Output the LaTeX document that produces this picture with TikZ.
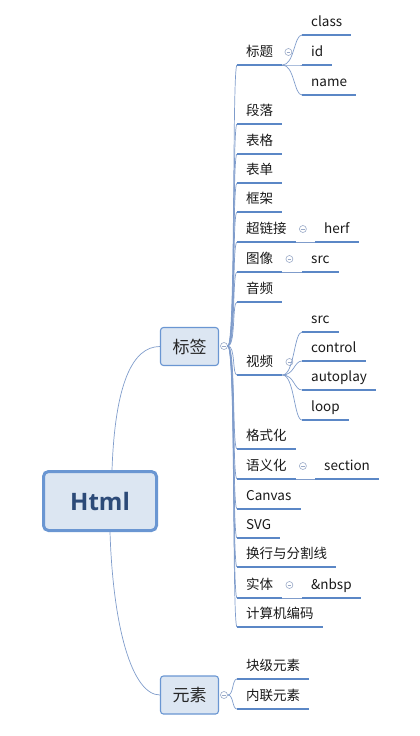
\documentclass[tikz,border=0pt]{standalone}
\usepackage{fontspec}
\setmainfont{Noto Sans CJK SC}
\newfontfamily\rootfont{Open Sans}
\usetikzlibrary{calc}
\definecolor{mapline}{HTML}{7F9CCB}
\definecolor{mapunder}{HTML}{5B87C6}
\definecolor{mapfill}{HTML}{DCE6F2}
\definecolor{mapedge}{HTML}{6A96D2}
\definecolor{maproot}{HTML}{2C4A78}
\definecolor{mapfold}{HTML}{9AAAC8}
\tikzset{
  root/.style={
    rectangle, rounded corners=5pt, draw=mapedge, line width=3pt, fill=mapfill,
    minimum width=113pt, minimum height=59pt, text=maproot,
    font=\rootfont\bfseries\fontsize{24}{28}\selectfont
  },
  topic/.style={
    rectangle, rounded corners=3pt, draw=mapedge, line width=1.1pt, fill=mapfill,
    minimum width=58pt, minimum height=38pt, text=black!85,
    font=\fontsize{17}{20}\selectfont
  },
  leaf/.style={
    anchor=south west, inner xsep=9pt, inner ysep=0pt,
    text height=10pt, text depth=8pt, text=black!90,
    font=\fontsize{13.5}{16}\selectfont
  },
  uline/.style={draw=mapunder, line width=1.6pt},
  link/.style={draw=mapline, line width=0.7pt},
  fold/.style={
    circle, draw=mapfold, fill=white, minimum size=7pt, inner sep=0pt, line width=0.6pt,
    path picture={\draw[mapfold, line width=0.6pt]
      ([xshift=-1.8pt]path picture bounding box.center) --
      ([xshift=1.8pt]path picture bounding box.center);}
  }
}
\begin{document}
\begin{tikzpicture}[x=1pt, y=-1pt]
  \useasboundingbox (0,0) rectangle (420,736);

  % Root and main topics
  \node[root] (html) at (100,501) {Html};
  \node[topic] (tag) at (189.5,346.5) {标签};
  \node[topic] (elem) at (189.5,695) {元素};
  \node[fold] (tagf) at (224,346) {};
  \node[fold] (elemf) at (224,695) {};

  \draw[link] ([xshift=12pt]html.north) .. controls +(3,-85) and +(-28,0) .. (tag.west);
  \draw[link] ([xshift=10pt]html.south) .. controls +(3,95) and +(-28,0) .. (elem.west);

  % Children of the tag topic
  \node[leaf] (heading)  at (237,65)  {标题};
  \node[leaf] (para)     at (237,124) {段落};
  \node[leaf] (table)    at (237,154) {表格};
  \node[leaf] (form)     at (237,183) {表单};
  \node[leaf] (frame)    at (237,212) {框架};
  \node[leaf] (link)     at (237,242) {超链接};
  \node[leaf] (img)      at (237,272) {图像};
  \node[leaf] (audio)    at (237,302) {音频};
  \node[leaf] (video)    at (237,375) {视频};
  \node[leaf] (format)   at (237,449) {格式化};
  \node[leaf] (semantic) at (237,479) {语义化};
  \node[leaf] (canvas)   at (237,509) {Canvas};
  \node[leaf] (svg)      at (237,538) {SVG};
  \node[leaf] (hr)       at (237,567) {换行与分割线};
  \node[leaf] (entity)   at (237,598) {实体};
  \node[leaf] (encoding) at (237,627) {计算机编码};

  % Attributes
  \node[leaf] (hclass)   at (302,35)  {class};
  \node[leaf] (hid)      at (302,65)  {id};
  \node[leaf] (hname)    at (302,95)  {name};
  \node[leaf] (lherf)    at (315,242) {herf};
  \node[leaf] (isrc)     at (302,272) {src};
  \node[leaf] (vsrc)     at (302,332) {src};
  \node[leaf] (vcontrol) at (302,361) {control};
  \node[leaf] (vauto)    at (302,390) {autoplay};
  \node[leaf] (vloop)    at (302,420) {loop};
  \node[leaf] (ssection) at (315,479) {section};
  \node[leaf] (enbsp)    at (302,598) {\&nbsp};

  % Children of the element topic
  \node[leaf] (block)  at (237,679) {块级元素};
  \node[leaf] (inline) at (237,709) {内联元素};

  % Fold markers
  \node[fold] (headingf)  at ($(heading.south east)+(6,-13)$) {};
  \node[fold] (linkf)     at ($(link.south east)+(7,-13)$) {};
  \node[fold] (imgf)      at ($(img.south east)+(7,-13)$) {};
  \node[fold] (videof)    at ($(video.south east)+(7,-13)$) {};
  \node[fold] (semanticf) at ($(semantic.south east)+(7,-13)$) {};
  \node[fold] (entityf)   at ($(entity.south east)+(7,-13)$) {};

  % Connectors
  \foreach \n in {heading,para,table,form,frame,link,img,audio,video,
                  format,semantic,canvas,svg,hr,entity,encoding}
    \draw[link] (tagf.east) .. controls +(8,0) and +(-5,0) .. (\n.south west);
  \foreach \n in {block,inline}
    \draw[link] (elemf.east) .. controls +(6,0) and +(-5,0) .. (\n.south west);
  \foreach \n in {hclass,hid,hname}
    \draw[link] (heading.south east) .. controls +(12,0) and +(-8,0) .. (\n.south west);
  \foreach \n in {vsrc,vcontrol,vauto,vloop}
    \draw[link] (video.south east) .. controls +(12,0) and +(-8,0) .. (\n.south west);
  \draw[link] (link.south east) -- (lherf.south west);
  \draw[link] (img.south east) -- (isrc.south west);
  \draw[link] (semantic.south east) -- (ssection.south west);
  \draw[link] (entity.south east) -- (enbsp.south west);

  % Underlines
  \foreach \n in {heading,para,table,form,frame,link,img,audio,video,
                  format,semantic,canvas,svg,hr,entity,encoding,
                  hclass,hid,hname,lherf,isrc,vsrc,vcontrol,vauto,vloop,
                  ssection,enbsp,block,inline}
    \draw[uline] (\n.south west) -- (\n.south east);

\end{tikzpicture}
\end{document}
